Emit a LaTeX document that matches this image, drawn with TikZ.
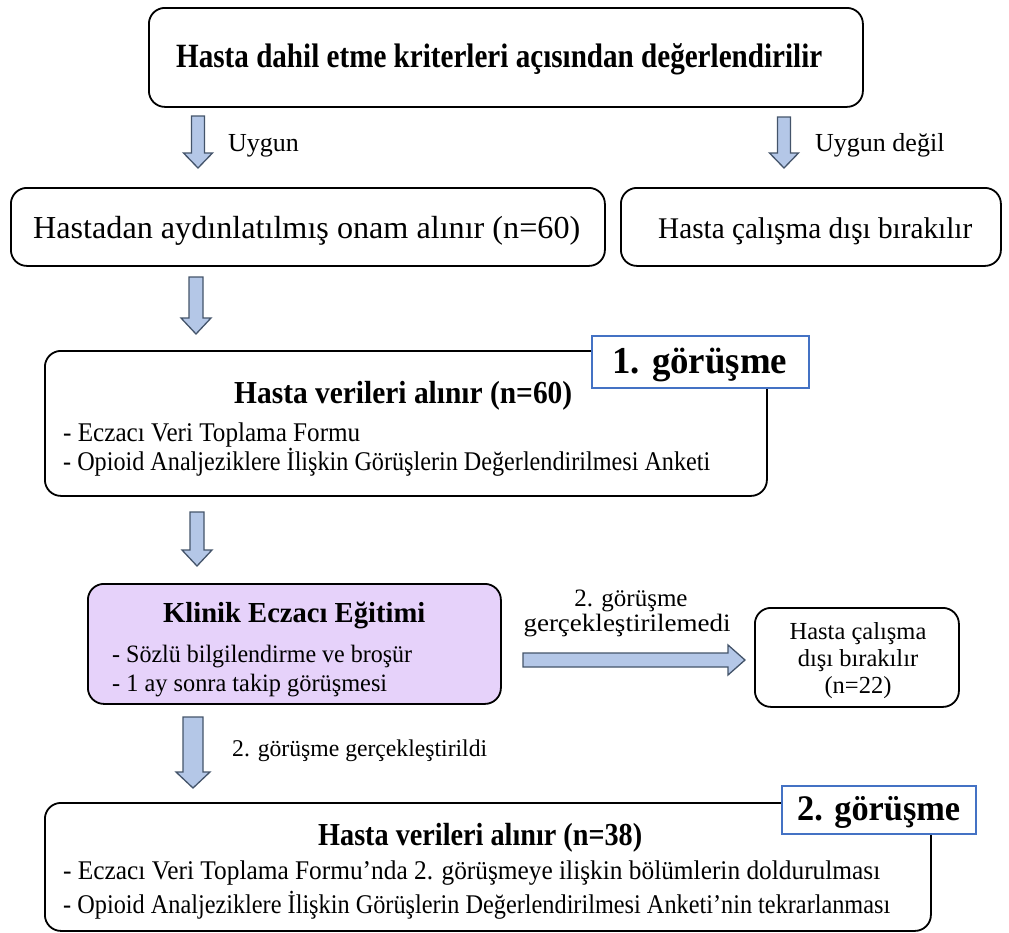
\documentclass[tikz,border=0pt]{standalone}
\usepackage{fontspec}
\setmainfont{Liberation Serif}
\usepackage{graphicx}
\definecolor{arrowfill}{RGB}{180,199,231}
\definecolor{arrowdraw}{RGB}{68,84,106}
\definecolor{tagblue}{RGB}{68,114,196}
\definecolor{lilac}{RGB}{230,210,250}
\newcommand\fw[2]{\resizebox{#1pt}{\height}{#2}}
\newcommand\fs[1]{\fontsize{#1}{#1}\selectfont}
\newcommand\downblk[6]{%
  \draw[blockarrow] (#1-#4,#2) -- (#1+#4,#2) -- (#1+#4,#3-#6) -- (#1+#5,#3-#6) -- (#1,#3) -- (#1-#5,#3-#6) -- (#1-#4,#3-#6) -- cycle;}
\newcommand\rightblk[6]{%
  \draw[blockarrow] (#1,#3-#4) -- (#2-#6,#3-#4) -- (#2-#6,#3-#5) -- (#2,#3) -- (#2-#6,#3+#5) -- (#2-#6,#3+#4) -- (#1,#3+#4) -- cycle;}
\tikzset{
 box/.style={draw=black, line width=1.8pt, rounded corners=16pt, fill=white, inner sep=0pt, anchor=north west},
 tag/.style={draw=tagblue, line width=1.6pt, fill=white, inner sep=0pt, anchor=north west},
 txt/.style={inner sep=0pt, anchor=base west},
 ctxt/.style={inner sep=0pt, anchor=base},
 blockarrow/.style={draw=arrowdraw, fill=arrowfill, line width=1.3pt, line join=miter},
}
\begin{document}
\begin{tikzpicture}[x=1pt,y=-1pt]
\useasboundingbox (0,0) rectangle (1009,932);
% boxes
\node[box, minimum width=714pt, minimum height=99pt] (b1) at (148,7) {};
\node[box, minimum width=594pt, minimum height=78pt] (b2) at (10,187) {};
\node[box, minimum width=380pt, minimum height=78pt] (b3) at (620,187) {};
\node[box, minimum width=722pt, minimum height=145pt] (b4) at (44,350) {};
\node[box, minimum width=413pt, minimum height=120pt, fill=lilac] (b5) at (87,583) {};
\node[box, minimum width=204pt, minimum height=99pt] (b6) at (754,607) {};
\node[box, minimum width=886pt, minimum height=128pt] (b7) at (44,802) {};
% tags
\node[tag, minimum width=217pt, minimum height=52pt] (tag1) at (591,335) {};
\node[tag, minimum width=194pt, minimum height=48pt] (tag2) at (781,785) {};
\node[txt] (tg1) at (612,373) {\fs{38}\bfseries\fw{175}{1. görüşme}};
\node[txt] (tg2) at (797,820) {\fs{36}\bfseries\fw{163}{2. görüşme}};
% texts
\node[txt] (t1) at (176,67) {\fs{34}\bfseries\fw{646}{Hasta dahil etme kriterleri açısından değerlendirilir}};
\node[txt] (l1) at (228,151) {\fs{26}Uygun};
\node[txt] (l2) at (815,151) {\fs{26}Uygun değil};
\node[txt] (t2) at (33,238) {\fs{32}\fw{547}{Hastadan aydınlatılmış onam alınır (n=60)}};
\node[txt] (t3) at (658,238) {\fs{30}\fw{314}{Hasta çalışma dışı bırakılır}};
\node[txt] (t4) at (234,403) {\fs{32}\bfseries\fw{338}{Hasta verileri alınır (n=60)}};
\node[txt] (t4a) at (63,441) {\fs{27}\fw{297}{- Eczacı Veri Toplama Formu}};
\node[txt] (t4b) at (63,470) {\fs{27}\fw{647}{- Opioid Analjeziklere İlişkin Görüşlerin Değerlendirilmesi Anketi}};
\node[txt] (t5) at (163,622) {\fs{29}\bfseries\fw{262}{Klinik Eczacı Eğitimi}};
\node[txt] (t5a) at (112,662) {\fs{25}\fw{300}{- Sözlü bilgilendirme ve broşür}};
\node[txt] (t5b) at (112,691) {\fs{25}\fw{275}{- 1 ay sonra takip görüşmesi}};
\node[ctxt] (h1) at (631,606) {\fs{25}2. görüşme};
\node[ctxt] (h2) at (627,631) {\fs{25}\fw{207}{gerçekleştirilemedi}};
\node[ctxt] (t6a) at (858,639) {\fs{24.5}Hasta çalışma};
\node[ctxt] (t6b) at (858,666) {\fs{24.5}dışı bırakılır};
\node[ctxt] (t6c) at (858,693) {\fs{24.5}(n=22)};
\node[txt] (l5) at (232,756) {\fs{24}\fw{255}{2. görüşme gerçekleştirildi}};
\node[txt] (t7) at (318,845) {\fs{32}\bfseries\fw{324}{Hasta verileri alınır (n=38)}};
\node[txt] (t7a) at (63,879) {\fs{27}\fw{817}{- Eczacı Veri Toplama Formu’nda 2. görüşmeye ilişkin bölümlerin doldurulması}};
\node[txt] (t7b) at (63,913) {\fs{27}\fw{827}{- Opioid Analjeziklere İlişkin Görüşlerin Değerlendirilmesi Anketi’nin tekrarlanması}};
% block arrows
\downblk{198}{116}{168}{6.5}{14.5}{15}
\downblk{784}{117}{168}{6.5}{14.5}{15}
\downblk{196}{277}{334}{7}{15}{16}
\downblk{197}{512}{566}{7}{15}{16}
\downblk{193}{717}{788}{10}{17}{16}
\rightblk{523}{745}{660}{7}{15}{17}
\end{tikzpicture}
\end{document}
